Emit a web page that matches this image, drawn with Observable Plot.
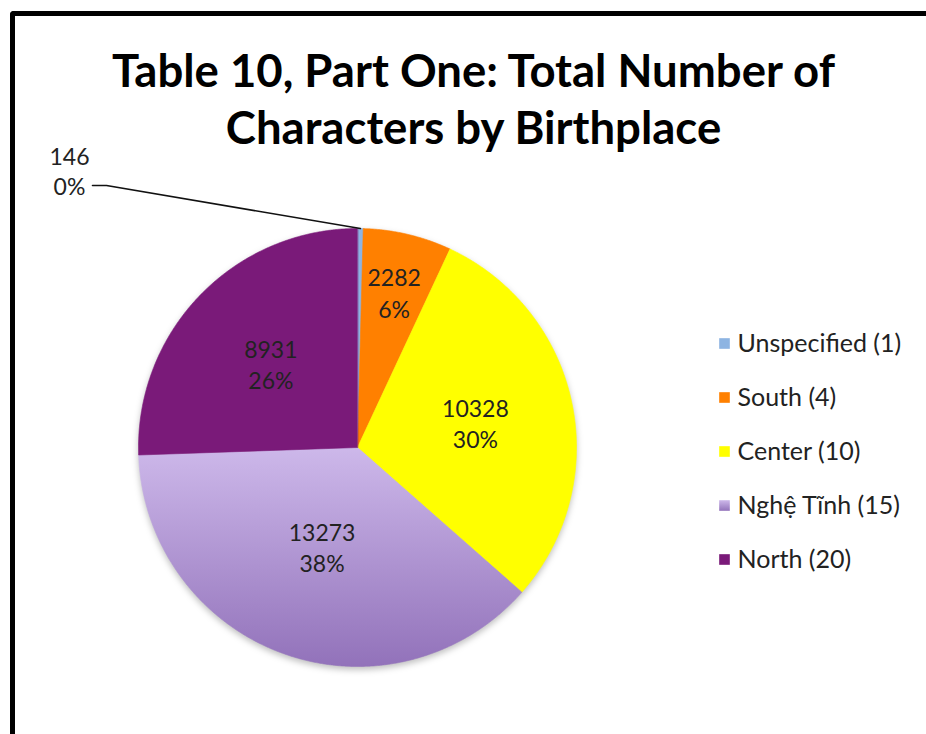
<!DOCTYPE html>
<html><head><meta charset="utf-8">
<script src="https://cdn.jsdelivr.net/npm/d3@7"></script>
<script src="https://cdn.jsdelivr.net/npm/@observablehq/plot@0.6"></script>
<style>
html,body{margin:0;padding:0;background:#fff;overflow:hidden;}
#wrap{position:relative;width:926px;height:734px;overflow:hidden;font-family:Lato,sans-serif;}
#chart{position:absolute;left:0;top:0;}
#bTop{position:absolute;left:10px;top:11px;width:940px;height:5px;background:#000;border-top-left-radius:4px;z-index:3;}
#bLeft{position:absolute;left:10px;top:11px;width:5px;height:760px;background:#000;border-top-left-radius:4px;z-index:3;}
#cover{position:absolute;left:914px;top:16px;width:20px;height:740px;background:#fff;z-index:2;}
</style></head><body>
<div id="wrap"><div id="chart"></div><div id="cover"></div><div id="bTop"></div><div id="bLeft"></div></div>
<script>
// ---- data ----
const categories = ["Unspecified", "South", "Center", "Nghệ Tĩnh", "North"];
const legendCounts = [1, 4, 10, 15, 20];
const values = [146, 2282, 10328, 13273, 8931];
const percentLabels = ["0%", "6%", "30%", "38%", "26%"];
const colors = ["#8db4e2", "#ff8000", "#ffff00", "url(#ngheGrad)", "#7a1a79"];
const titleLines = ["Table 10, Part One: Total Number of", "Characters by Birthplace"];

// ---- layout ----
const W = 926, H = 734, CX = 357, CY = 447, R = 219;
const labelRadius = [null, 0.73, 0.55, 0.48, 0.55];
const outsideLabel = {px: 69, py: 170};
const leaderElbow = {px: 106, py: 185};
const leaderEnd = {px: 92, py: 185};
const legendX = 724, legendTextX = 737, legendY0 = 343, legendStep = 54;
const toX = px => (px - CX) / R, toY = py => (CY - py) / R;

const rows = categories.map((name, i) => ({name, value: values[i], pct: percentLabels[i], count: legendCounts[i]}));
const arcs = d3.pie().sort(null).value(d => d.value)(rows);

const piePts = [];
arcs.forEach(a => {
  const n = Math.max(2, Math.ceil((a.endAngle - a.startAngle) / 0.005));
  piePts.push({name: a.data.name, x: 0, y: 0});
  for (let k = 0; k <= n; k++) {
    const ang = a.startAngle + (a.endAngle - a.startAngle) * k / n;
    piePts.push({name: a.data.name, x: Math.sin(ang), y: Math.cos(ang)});
  }
});

const inside = [], outside = [], leader = [];
arcs.forEach((a, i) => {
  const mid = (a.startAngle + a.endAngle) / 2;
  const text = `${a.data.value}\n${a.data.pct}`;
  if (labelRadius[i] == null) {
    outside.push({x: toX(outsideLabel.px), y: toY(outsideLabel.py), text});
    leader.push({x: Math.sin(mid), y: Math.cos(mid)},
                {x: toX(leaderElbow.px), y: toY(leaderElbow.py)},
                {x: toX(leaderEnd.px), y: toY(leaderEnd.py)});
  } else {
    inside.push({x: labelRadius[i] * Math.sin(mid), y: labelRadius[i] * Math.cos(mid), text});
  }
});

const legendMarks = [];
rows.forEach((r, i) => {
  legendMarks.push(Plot.dot([r.name], {frameAnchor: "top-left", dx: legendX, dy: legendY0 + legendStep * i,
    symbol: "square", r: 6, fill: d => d, stroke: null}));
  legendMarks.push(Plot.text([`${r.name} (${r.count})`], {frameAnchor: "top-left", dx: legendTextX, dy: legendY0 + legendStep * i,
    text: d => d, textAnchor: "start", lineAnchor: "middle", fontSize: 25, fill: "#222"}));
});

const chart = Plot.plot({
  width: W, height: H, margin: 0,
  style: {fontFamily: "Lato, sans-serif", background: "transparent"},
  x: {domain: [-1, 1], range: [CX - R, CX + R], axis: null},
  y: {domain: [-1, 1], range: [CY + R, CY - R], axis: null},
  color: {domain: categories, range: colors},
  marks: [
    Plot.line(piePts, {x: "x", y: "y", z: "name", fill: "name", stroke: "name", strokeWidth: 0.6, curve: "linear-closed"}),
    Plot.line(leader, {x: "x", y: "y", stroke: "#111", strokeWidth: 1.6}),
    Plot.text(inside, {x: "x", y: "y", text: "text", fontSize: 23, lineHeight: 1.36, fill: "#222"}),
    Plot.text(outside, {x: "x", y: "y", text: "text", fontSize: 23, lineHeight: 1.3, fill: "#222"}),
    Plot.text([titleLines.join("\n")], {frameAnchor: "top", dx: 10, dy: 46, lineAnchor: "top", text: d => d,
      fontSize: 45.5, fontWeight: "bold", lineHeight: 57 / 45.5, fill: "#000"}),
    ...legendMarks
  ]
});

chart.insertAdjacentHTML("afterbegin",
  '<defs><linearGradient id="ngheGrad" x1="0" y1="0" x2="0" y2="1">' +
  '<stop offset="0" stop-color="#cdb8ea"/><stop offset="1" stop-color="#9272ba"/></linearGradient></defs>');
const pieG = chart.querySelector('g[aria-label="line"]');
if (pieG) pieG.style.filter = "drop-shadow(0px 3px 3px rgba(0,0,0,0.25))";
document.getElementById("chart").appendChild(chart);
</script>
</body></html>
